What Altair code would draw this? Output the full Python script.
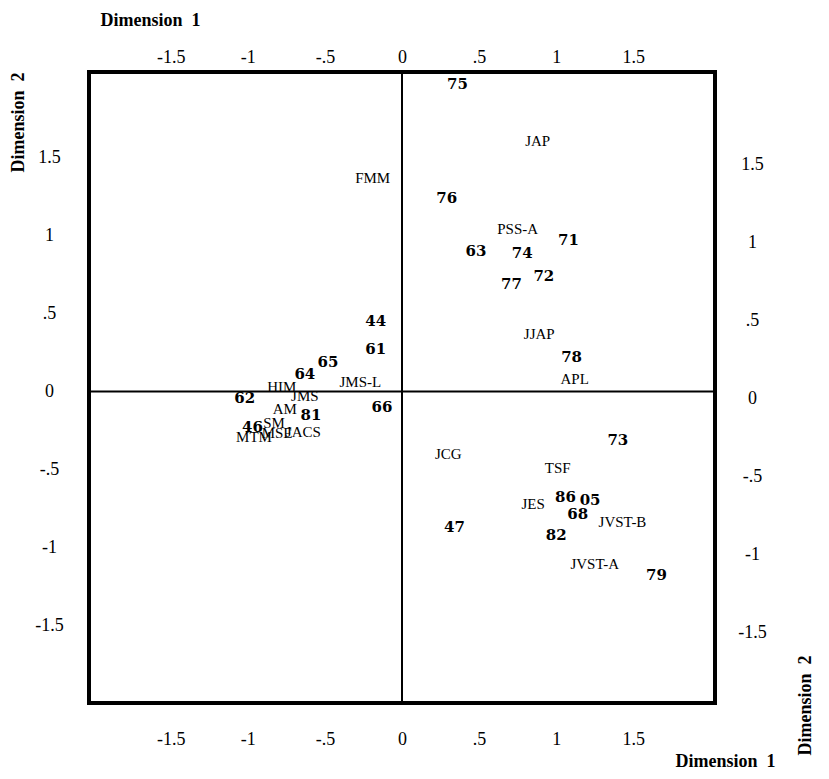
import altair as alt
import pandas as pd

# Bold year labels
year_labels = ["75", "76", "63", "74", "71", "72", "77", "44", "61", "78", "65", "64",
               "62", "66", "81", "46", "73", "86", "05", "68", "47", "82", "79"]
year_x = [0.36, 0.29, 0.48, 0.78, 1.08, 0.92, 0.71, -0.17, -0.17, 1.10, -0.48, -0.63,
          -1.02, -0.13, -0.59, -0.97, 1.40, 1.06, 1.22, 1.14, 0.34, 1.00, 1.65]
year_y = [1.97, 1.24, 0.90, 0.89, 0.97, 0.74, 0.69, 0.45, 0.27, 0.22, 0.19, 0.11,
          -0.04, -0.10, -0.15, -0.23, -0.31, -0.68, -0.70, -0.79, -0.87, -0.92, -1.18]

# Regular journal labels
journal_labels = ["JAP", "FMM", "PSS-A", "JJAP", "APL", "JMS-L", "HIM", "JMS", "AM", "SM",
                  "MSE", "JACS", "MTM", "JCG", "TSF", "JES", "JVST-B", "JVST-A"]
journal_x = [0.88, -0.19, 0.75, 0.89, 1.12, -0.27, -0.78, -0.63, -0.76, -0.83,
             -0.81, -0.64, -0.96, 0.30, 1.01, 0.85, 1.43, 1.25]
journal_y = [1.61, 1.37, 1.04, 0.37, 0.08, 0.06, 0.03, -0.03, -0.11, -0.20,
             -0.27, -0.26, -0.29, -0.40, -0.49, -0.72, -0.84, -1.11]

tick_values = [-1.5, -1, -0.5, 0, 0.5, 1, 1.5]
x_domain = [-2.03, 2.03]
y_domain = [-2.0, 2.05]

years = pd.DataFrame({"label": year_labels, "x": year_x, "y": year_y})
journals = pd.DataFrame({"label": journal_labels, "x": journal_x, "y": journal_y})
zero = pd.DataFrame({"v": [0]})

FONT = "Liberation Serif"
label_expr = ("(datum.value < 0 ? '-' : '') + "
              "replace(format(abs(datum.value), '.1~f'), '0.', '.')")

xs = alt.Scale(domain=x_domain, nice=False, zero=False)
ys = alt.Scale(domain=y_domain, nice=False, zero=False)

TITLE = "Dimension\u00a0\u00a01"
TITLE2 = "Dimension\u00a0\u00a02"

common = dict(values=tick_values, labelExpr=label_expr, ticks=False, domain=False,
              grid=False, labelFont=FONT, labelFontSize=18, labelColor="black",
              titleFont=FONT, titleFontSize=18, titleFontWeight="bold", titleColor="black")

x_bottom = alt.Axis(orient="bottom", title=TITLE, labelPadding=27,
                    titleX=686, titleY=58, titleAlign="right", titleBaseline="middle",
                    titleAngle=0, **common)
y_left = alt.Axis(orient="left", title=TITLE2, labelAlign="center", labelPadding=40,
                  labelBaseline="middle",
                  titleX=-71, titleY=0, titleAngle=270, titleAlign="right",
                  titleBaseline="middle", **common)
x_top = alt.Axis(orient="top", title=TITLE, labelPadding=6,
                 titleX=11, titleY=-52, titleAlign="left", titleBaseline="middle",
                 titleAngle=0, **common)
y_right = alt.Axis(orient="right", title=TITLE2, labelAlign="center", labelPadding=37,
                   labelBaseline="middle", labelOffset=7,
                   titleX=90, titleY=633, titleAngle=270, titleAlign="center",
                   titleBaseline="middle", **common)

vrule = alt.Chart(zero).mark_rule(color="black", strokeWidth=2).encode(
    x=alt.X("v:Q", scale=xs, axis=x_bottom)
)
hrule = alt.Chart(zero).mark_rule(color="black", strokeWidth=2).encode(
    y=alt.Y("v:Q", scale=ys, axis=y_left)
)

year_text = alt.Chart(years).mark_text(
    font="DejaVu Serif", fontSize=15, fontWeight="bold", color="black",
    align="center", baseline="middle"
).encode(
    x=alt.X("x:Q", scale=xs, axis=x_top),
    y=alt.Y("y:Q", scale=ys, axis=y_right),
    text="label:N",
)

journal_text = alt.Chart(journals).mark_text(
    font=FONT, fontSize=15, color="black", align="center", baseline="middle"
).encode(
    x=alt.X("x:Q", scale=xs, axis=None),
    y=alt.Y("y:Q", scale=ys, axis=None),
    text="label:N",
)

chart = alt.layer(vrule, hrule, year_text, journal_text).resolve_axis(
    x="independent", y="independent"
).properties(
    width=626, height=631,
    padding={"left": 81, "top": 64, "right": 100, "bottom": 68},
    autosize=alt.AutoSizeParams(type="none"),
    background="white",
).configure_view(stroke="black", strokeWidth=4)

chart.save("out.html", embed_options={"renderer": "svg", "actions": False})
